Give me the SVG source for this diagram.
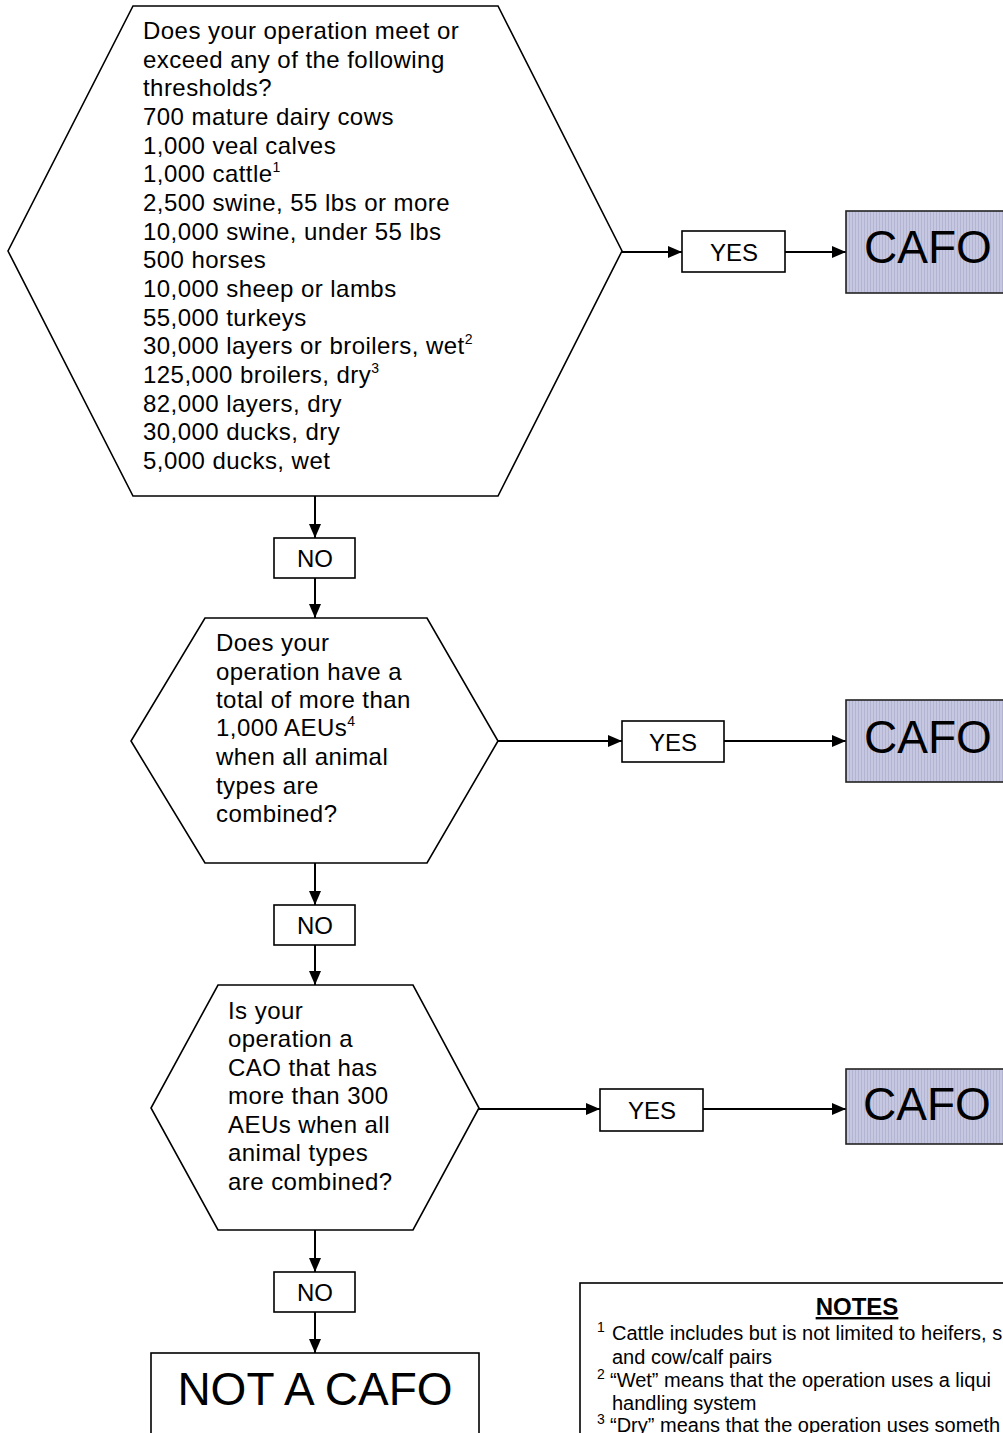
<svg xmlns="http://www.w3.org/2000/svg" width="1003" height="1433" viewBox="0 0 1003 1433">
<defs>
<style>
.sh{fill:#fff;stroke:#000;stroke-width:1.6}
.t{font-family:"Liberation Sans",Arial,sans-serif;fill:#000}
.q{font-size:24px;letter-spacing:0.45px}
.lbl{font-size:24px;text-anchor:middle}
.big{font-size:46px;text-anchor:middle}
.note{font-size:20px}
.sup{font-size:14px;letter-spacing:0}
.cn{stroke:#000;stroke-width:2;fill:none}
</style>
<pattern id="hatch" width="3" height="10" patternUnits="userSpaceOnUse">
<rect width="3" height="10" fill="#c6c8e2"/>
<rect width="1" height="10" fill="#b2b4d2"/>
</pattern>
<marker id="ah" viewBox="0 0 14 12" refX="14" refY="6" markerWidth="14" markerHeight="12" markerUnits="userSpaceOnUse" orient="auto">
<path d="M0,0 L14,6 L0,12 Z" fill="#000"/>
</marker>
</defs>
<rect width="1003" height="1433" fill="#fff"/>

<g id="connectors">
<line class="cn" x1="315" y1="496" x2="315" y2="538" marker-end="url(#ah)"/>
<line class="cn" x1="315" y1="578" x2="315" y2="618" marker-end="url(#ah)"/>
<line class="cn" x1="315" y1="863" x2="315" y2="905" marker-end="url(#ah)"/>
<line class="cn" x1="315" y1="945" x2="315" y2="985" marker-end="url(#ah)"/>
<line class="cn" x1="315" y1="1230" x2="315" y2="1272" marker-end="url(#ah)"/>
<line class="cn" x1="315" y1="1312" x2="315" y2="1353" marker-end="url(#ah)"/>
<line class="cn" x1="622" y1="252" x2="682" y2="252" marker-end="url(#ah)"/>
<line class="cn" x1="785" y1="252" x2="846" y2="252" marker-end="url(#ah)"/>
<line class="cn" x1="498" y1="741" x2="622" y2="741" marker-end="url(#ah)"/>
<line class="cn" x1="724" y1="741" x2="846" y2="741" marker-end="url(#ah)"/>
<line class="cn" x1="479" y1="1109" x2="600" y2="1109" marker-end="url(#ah)"/>
<line class="cn" x1="703" y1="1109" x2="846" y2="1109" marker-end="url(#ah)"/>
</g>

<g id="q1">
<polygon class="sh" points="133,6 498,6 622,251 498,496 133,496 8,251"/>
<text class="t q" x="143">
<tspan x="143" y="39">Does your operation meet or</tspan>
<tspan x="143" y="68">exceed any of the following</tspan>
<tspan x="143" y="96">thresholds?</tspan>
<tspan x="143" y="125">700 mature dairy cows</tspan>
<tspan x="143" y="154">1,000 veal calves</tspan>
<tspan x="143" y="182">1,000 cattle<tspan class="sup" dy="-10">1</tspan></tspan>
<tspan x="143" y="211">2,500 swine, 55 lbs or more</tspan>
<tspan x="143" y="240">10,000 swine, under 55 lbs</tspan>
<tspan x="143" y="268">500 horses</tspan>
<tspan x="143" y="297">10,000 sheep or lambs</tspan>
<tspan x="143" y="326">55,000 turkeys</tspan>
<tspan x="143" y="354">30,000 layers or broilers, wet<tspan class="sup" dy="-10">2</tspan></tspan>
<tspan x="143" y="383">125,000 broilers, dry<tspan class="sup" dy="-10">3</tspan></tspan>
<tspan x="143" y="412">82,000 layers, dry</tspan>
<tspan x="143" y="440">30,000 ducks, dry</tspan>
<tspan x="143" y="469">5,000 ducks, wet</tspan>
</text>
</g>

<g id="no1"><rect class="sh" x="274" y="538" width="81" height="40"/><text class="t lbl" x="315" y="567">NO</text></g>
<g id="yes1"><rect class="sh" x="682" y="231" width="103" height="41"/><text class="t lbl" x="734" y="261">YES</text></g>
<g id="cafo1"><rect x="846" y="211" width="170" height="82" fill="url(#hatch)" stroke="#222" stroke-width="1.6"/><text class="t big" x="928" y="263">CAFO</text></g>

<g id="q2">
<polygon class="sh" points="205,618 427,618 498,741 427,863 205,863 131,741"/>
<text class="t q">
<tspan x="216" y="651">Does your</tspan>
<tspan x="216" y="680">operation have a</tspan>
<tspan x="216" y="708">total of more than</tspan>
<tspan x="216" y="736">1,000 AEUs<tspan class="sup" dy="-10">4</tspan></tspan>
<tspan x="216" y="765">when all animal</tspan>
<tspan x="216" y="794">types are</tspan>
<tspan x="216" y="822">combined?</tspan>
</text>
</g>

<g id="no2"><rect class="sh" x="274" y="905" width="81" height="40"/><text class="t lbl" x="315" y="934">NO</text></g>
<g id="yes2"><rect class="sh" x="622" y="721" width="102" height="41"/><text class="t lbl" x="673" y="751">YES</text></g>
<g id="cafo2"><rect x="846" y="700" width="170" height="82" fill="url(#hatch)" stroke="#222" stroke-width="1.6"/><text class="t big" x="928" y="753">CAFO</text></g>

<g id="q3">
<polygon class="sh" points="218,985 413,985 479,1108 413,1230 218,1230 151,1108"/>
<text class="t q">
<tspan x="228" y="1019">Is your</tspan>
<tspan x="228" y="1047">operation a</tspan>
<tspan x="228" y="1076">CAO that has</tspan>
<tspan x="228" y="1104">more than 300</tspan>
<tspan x="228" y="1133">AEUs when all</tspan>
<tspan x="228" y="1161">animal types</tspan>
<tspan x="228" y="1190">are combined?</tspan>
</text>
</g>

<g id="no3"><rect class="sh" x="274" y="1272" width="81" height="40"/><text class="t lbl" x="315" y="1301">NO</text></g>
<g id="yes3"><rect class="sh" x="600" y="1089" width="103" height="42"/><text class="t lbl" x="652" y="1119">YES</text></g>
<g id="cafo3"><rect x="846" y="1069" width="170" height="75" fill="url(#hatch)" stroke="#222" stroke-width="1.6"/><text class="t big" x="927" y="1120">CAFO</text></g>

<g id="notacafo"><rect class="sh" x="151" y="1353" width="328" height="100"/><text class="t big" x="315" y="1405">NOT A CAFO</text></g>

<g id="notes">
<rect class="sh" x="580" y="1283" width="440" height="170"/>
<text class="t" x="857" y="1315" font-size="24" font-weight="bold" text-anchor="middle" text-decoration="underline">NOTES</text>
<text class="t note">
<tspan x="597" y="1332" class="sup">1</tspan><tspan x="612" y="1340">Cattle includes but is not limited to heifers, s</tspan>
<tspan x="612" y="1364">and cow/calf pairs</tspan>
<tspan x="597" y="1379" class="sup">2</tspan><tspan x="610" y="1387">“Wet” means that the operation uses a liqui</tspan>
<tspan x="612" y="1410">handling system</tspan>
<tspan x="597" y="1424" class="sup">3</tspan><tspan x="610" y="1432">“Dry” means that the operation uses someth</tspan>
</text>
</g>
</svg>
